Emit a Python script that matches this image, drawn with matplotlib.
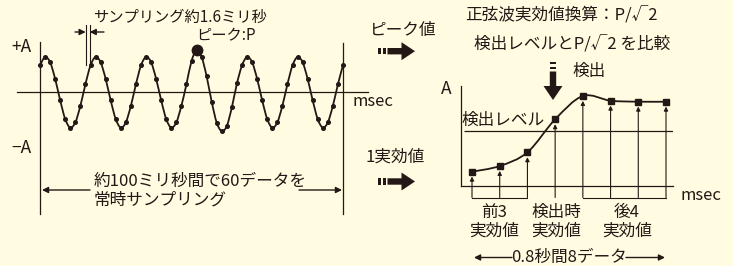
import numpy as np
import matplotlib.pyplot as plt
from matplotlib.path import Path
from matplotlib.patches import PathPatch, Rectangle, Polygon

plt.rcParams['font.family'] = ['Noto Sans CJK JP', 'DejaVu Sans']

W, H = 733, 266
bg = '#fffce1'
ink = '#231815'

# ---- data ----
# 60 samples over ~100 msec (one every ~1.6 msec), amplitude in units of A
wave = [0.76, 1.00, 0.85, 0.38, -0.23, -0.76, -1.00, -0.85, -0.38, 0.23,
        0.76, 1.00, 0.85, 0.38, -0.23, -0.76, -1.00, -0.85, -0.38, 0.23,
        0.76, 1.00, 0.85, 0.38, -0.23, -0.76, -1.00, -0.85, -0.38, 0.23,
        0.88, 1.19, 1.00, 0.45, -0.27, -0.86, -1.10, -0.95, -0.42, 0.25,
        0.76, 1.00, 0.85, 0.38, -0.23, -0.76, -1.00, -0.85, -0.38, 0.23,
        0.76, 1.00, 0.85, 0.38, -0.23, -0.76, -1.00, -0.85, -0.38, 0.23,
        0.77]
t_ms = [i * 100 / 60 for i in range(len(wave))]
peak_idx = 31

# 8 effective values (3 before, detection, 4 after)
rms_n = [1, 2, 3, 4, 5, 6, 7, 8]
rms = [1.43, 2.0, 3.37, 6.67, 9.0, 8.53, 8.43, 8.43]
level = 5.53
before = [1, 2, 3]
after = [5, 6, 7, 8]


def smooth(x, y):
    # catmull-rom through the points, as bezier segments
    x = np.asarray(x, float)
    y = np.asarray(y, float)
    n = len(x)
    verts = [(x[0], y[0])]
    codes = [Path.MOVETO]
    for i in range(n - 1):
        i0 = max(i - 1, 0)
        i3 = min(i + 2, n - 1)
        c1 = (x[i] + (x[i + 1] - x[i0]) / 6, y[i] + (y[i + 1] - y[i0]) / 6)
        c2 = (x[i + 1] - (x[i3] - x[i]) / 6, y[i + 1] - (y[i3] - y[i]) / 6)
        verts += [c1, c2, (x[i + 1], y[i + 1])]
        codes += [Path.CURVE4] * 3
    return Path(verts, codes)


fig = plt.figure(figsize=(W / 100, H / 100), dpi=100)
fig.patch.set_facecolor(bg)

# overlay in pixel coords
ax = fig.add_axes([0, 0, 1, 1])
ax.set_xlim(0, W)
ax.set_ylim(H, 0)
ax.axis('off')


def txt(x, y, s, size=12, ha='center'):
    ax.text(x, y, s, fontsize=size, color=ink, ha=ha, va='center')


def arr(x0, y0, x1, y1):
    ax.annotate('', xy=(x1, y1), xytext=(x0, y0),
                arrowprops=dict(arrowstyle='-|>', color=ink, lw=1.0,
                                mutation_scale=9, shrinkA=0, shrinkB=0))


def block_right(x0, yc):
    ax.add_patch(Rectangle((x0, yc - 3.2), 3.3, 6.4, color=ink, lw=0))
    ax.add_patch(Rectangle((x0 + 5, yc - 3.2), 3.0, 6.4, color=ink, lw=0))
    b = x0 + 10
    ax.add_patch(Polygon([(b, yc - 3.2), (b + 14, yc - 3.2), (b + 14, yc - 9),
                          (b + 27.5, yc), (b + 14, yc + 9), (b + 14, yc + 3.2),
                          (b, yc + 3.2)], closed=True, color=ink, lw=0))


# ---- left: sampled wave ----
ax.plot([17, 368], [92, 92], color=ink, lw=0.9)
ax.plot([40, 40], [42, 214], color=ink, lw=0.9)
ax.plot([343, 343], [43, 214], color=ink, lw=0.9)
txt(21, 47, '+A', 12.5)
txt(21, 148, '−A', 12.5)
txt(373, 102, 'msec', 12)

axw = fig.add_axes([40 / W, (H - 145.3) / H, 303 / W, 106 / H])
axw.set_xlim(0, 100)
axw.set_ylim(-1.5, 1.5)
axw.axis('off')
axw.patch.set_alpha(0)
axw.add_patch(PathPatch(smooth(t_ms, wave), fill=False, ec=ink, lw=1.3))
axw.plot(t_ms, wave, 'o', color=ink, ms=2.6, clip_on=False)
axw.plot(t_ms[peak_idx], wave[peak_idx], 'o', color=ink, ms=7.5, clip_on=False)

# sampling interval marks
ax.plot([85.7, 85.7], [25, 65], color=ink, lw=0.8)
ax.plot([89.7, 89.7], [25, 65], color=ink, lw=0.8)
arr(75, 32, 85.7, 32)
arr(104, 32, 89.7, 32)
txt(180, 17.5, 'サンプリング約1.6ミリ秒', 11)
txt(226, 36, 'ピーク:P', 11)

txt(94, 181.5, '約100ミリ秒間で60データを', 12, ha='left')
txt(94, 199.5, '常時サンプリング', 12, ha='left')
arr(90, 190, 42, 190)
arr(299, 190, 342, 190)

# ---- middle arrows ----
txt(403, 31, 'ピーク値', 12)
block_right(377.5, 51.2)
txt(395, 157.5, '1実効値', 12)
block_right(377.5, 181.5)

# ---- right: effective values ----
txt(561, 16, '正弦波実効値換算：P/√2', 12)
txt(572, 45, '検出レベルとP/√2 を比較', 12)
txt(589, 71.5, '検出', 12)
xc = 553
ax.add_patch(Rectangle((xc - 3.2, 61.5), 6.4, 2.4, color=ink, lw=0))
ax.add_patch(Rectangle((xc - 3.2, 66.5), 6.4, 2.6, color=ink, lw=0))
ax.add_patch(Polygon([(xc - 3.2, 71.5), (xc + 3.2, 71.5), (xc + 3.2, 86),
                      (xc + 9.5, 86), (xc, 100), (xc - 9.5, 86), (xc - 3.2, 86)],
                     closed=True, color=ink, lw=0))

txt(446, 89, 'A', 12.5)
ax.plot([461, 461], [86, 186], color=ink, lw=0.9)
ax.plot([461, 673], [186, 186], color=ink, lw=0.9)
txt(701, 195, 'msec', 12)
txt(503, 120, '検出レベル', 12)

axr = fig.add_axes([461 / W, (H - 186) / H, 212 / W, 100 / H])
x_lo = 1 - 11 / 27.71
axr.set_xlim(x_lo, 8 + 7 / 27.71)
axr.set_ylim(0, 10)
axr.axis('off')
axr.patch.set_alpha(0)
axr.hlines(level, x_lo + 3 / 27.71, 8 + 7 / 27.71, color=ink, lw=0.9)
axr.add_patch(PathPatch(smooth(rms_n, rms), fill=False, ec=ink, lw=1.3))
for n, v in zip(rms_n, rms):
    axr.annotate('', xy=(n, v), xytext=(n, -1.15), annotation_clip=False,
                 arrowprops=dict(arrowstyle='-|>', color=ink, lw=0.8,
                                 mutation_scale=6, shrinkA=0, shrinkB=3.5))
axr.plot([before[0], before[-1]], [-1.15, -1.15], color=ink, lw=0.8, clip_on=False)
axr.plot([after[0], after[-1]], [-1.15, -1.15], color=ink, lw=0.8, clip_on=False)
axr.plot(rms_n, rms, 's', color=ink, ms=4.6, clip_on=False)

txt(494, 212.5, '前3', 12)
txt(494, 231, '実効値', 12)
txt(556, 212.5, '検出時', 12)
txt(556, 231, '実効値', 12)
txt(627, 212.5, '後4', 12)
txt(627, 231, '実効値', 12)
txt(569, 257.5, '0.8秒間8データ', 12)
arr(512, 257.5, 474, 257.5)
arr(626, 257.5, 665, 257.5)

fig.savefig('out.png', dpi=100, facecolor=bg)
